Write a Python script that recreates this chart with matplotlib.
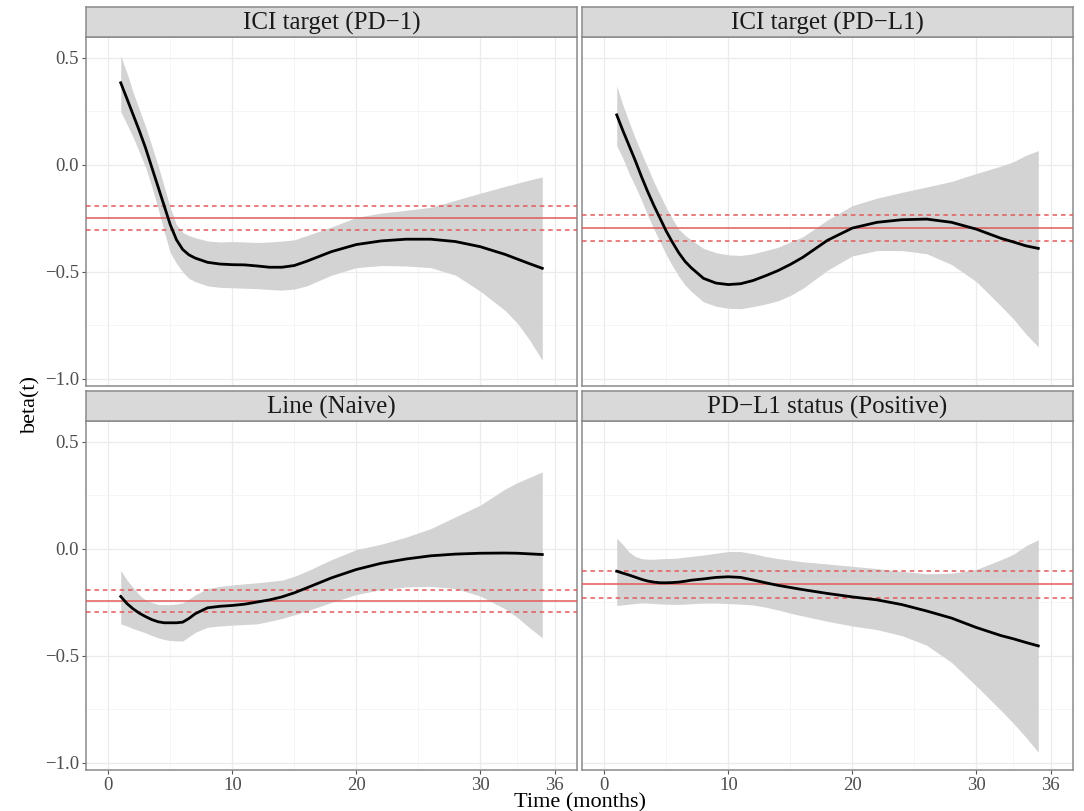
import numpy as np
import matplotlib.pyplot as plt
from matplotlib.ticker import FixedLocator

plt.rcParams['font.family'] = ['Liberation Serif', 'DejaVu Serif']

# Zeitpunkte (Monate), gemeinsam fuer alle Panels
t = [1, 1.5, 2, 2.5, 3, 3.5, 4, 4.5, 5, 5.5, 6, 6.5, 7, 8, 9, 10, 11, 12, 13, 14, 15, 16,
     18, 20, 22, 24, 26, 28, 30, 32, 33, 34, 35]

titles = ['ICI target (PD\u22121)', 'ICI target (PD\u2212L1)',
          'Line (Naive)', 'PD\u2212L1 status (Positive)']

# ICI target (PD-1)
pd1_est = [0.384, 0.31, 0.235, 0.16, 0.08, -0.01, -0.10, -0.19, -0.28, -0.35, -0.395, -0.42, -0.435,
           -0.455, -0.463, -0.466, -0.467, -0.472, -0.478, -0.478, -0.47, -0.45,
           -0.405, -0.372, -0.355, -0.347, -0.347, -0.358, -0.382, -0.418, -0.44, -0.462, -0.483]
pd1_hi = [0.51, 0.43, 0.34, 0.26, 0.18, 0.09, 0.0, -0.10, -0.20, -0.28, -0.315, -0.33, -0.34,
          -0.355, -0.36, -0.358, -0.36, -0.362, -0.36, -0.356, -0.35, -0.33,
          -0.29, -0.245, -0.225, -0.212, -0.198, -0.165, -0.132, -0.10, -0.085, -0.07, -0.056]
pd1_lo = [0.25, 0.19, 0.13, 0.06, -0.01, -0.10, -0.20, -0.31, -0.41, -0.46, -0.50, -0.53, -0.545,
          -0.565, -0.572, -0.574, -0.576, -0.578, -0.582, -0.585, -0.58, -0.565,
          -0.515, -0.48, -0.47, -0.472, -0.48, -0.515, -0.59, -0.68, -0.74, -0.82, -0.913]
pd1_const = [-0.248, -0.193, -0.304]

# ICI target (PD-L1)
pdl1_est = [0.234, 0.16, 0.09, 0.02, -0.055, -0.125, -0.19, -0.25, -0.31, -0.362, -0.41, -0.45, -0.48,
            -0.53, -0.552, -0.559, -0.555, -0.54, -0.518, -0.494, -0.465, -0.432,
            -0.352, -0.295, -0.268, -0.256, -0.253, -0.268, -0.30, -0.343, -0.36, -0.378, -0.39]
pdl1_hi = [0.37, 0.28, 0.20, 0.125, 0.055, -0.012, -0.08, -0.14, -0.20, -0.253, -0.30, -0.328, -0.35,
           -0.39, -0.41, -0.42, -0.423, -0.415, -0.40, -0.385, -0.36, -0.336,
           -0.257, -0.19, -0.155, -0.128, -0.103, -0.077, -0.04, -0.005, 0.015, 0.045, 0.067]
pdl1_lo = [0.09, 0.03, -0.04, -0.10, -0.165, -0.235, -0.30, -0.36, -0.42, -0.472, -0.52, -0.56, -0.59,
           -0.64, -0.66, -0.67, -0.672, -0.662, -0.65, -0.635, -0.61, -0.577,
           -0.492, -0.425, -0.40, -0.40, -0.415, -0.465, -0.545, -0.66, -0.72, -0.79, -0.85]
pdl1_const = [-0.295, -0.234, -0.356]

# Line (Naive)
naive_est = [-0.222, -0.255, -0.28, -0.30, -0.316, -0.33, -0.34, -0.345, -0.345, -0.345, -0.342, -0.325, -0.303,
             -0.275, -0.268, -0.264, -0.258, -0.248, -0.238, -0.224, -0.205, -0.182,
             -0.135, -0.096, -0.067, -0.047, -0.032, -0.024, -0.02, -0.019, -0.02, -0.023, -0.026]
naive_hi = [-0.10, -0.145, -0.18, -0.215, -0.238, -0.25, -0.259, -0.26, -0.26, -0.257, -0.252, -0.235, -0.215,
            -0.185, -0.175, -0.168, -0.163, -0.158, -0.152, -0.146, -0.128, -0.104,
            -0.05, -0.003, 0.022, 0.055, 0.095, 0.15, 0.205, 0.28, 0.31, 0.335, 0.36]
naive_lo = [-0.35, -0.36, -0.372, -0.382, -0.392, -0.404, -0.415, -0.423, -0.428, -0.43, -0.43, -0.41, -0.39,
            -0.366, -0.36, -0.356, -0.353, -0.35, -0.338, -0.325, -0.308, -0.29,
            -0.25, -0.213, -0.19, -0.178, -0.175, -0.185, -0.22, -0.28, -0.32, -0.37, -0.415]
naive_const = [-0.244, -0.194, -0.293]

# PD-L1 status (Positive)
status_est = [-0.104, -0.113, -0.122, -0.132, -0.142, -0.15, -0.155, -0.158, -0.158, -0.157, -0.155, -0.151, -0.146,
              -0.14, -0.133, -0.13, -0.133, -0.145, -0.158, -0.17, -0.18, -0.19,
              -0.208, -0.224, -0.238, -0.26, -0.29, -0.323, -0.367, -0.405, -0.42, -0.437, -0.453]
status_hi = [0.05, 0.02, -0.015, -0.035, -0.045, -0.048, -0.048, -0.046, -0.045, -0.044, -0.042, -0.038, -0.035,
             -0.028, -0.02, -0.012, -0.012, -0.022, -0.035, -0.045, -0.052, -0.06,
             -0.07, -0.081, -0.092, -0.105, -0.116, -0.113, -0.096, -0.05, -0.025, 0.015, 0.043]
status_lo = [-0.264, -0.261, -0.258, -0.255, -0.252, -0.253, -0.255, -0.257, -0.258, -0.259, -0.259, -0.258, -0.256,
             -0.253, -0.253, -0.255, -0.258, -0.262, -0.272, -0.285, -0.30, -0.313,
             -0.338, -0.36, -0.377, -0.405, -0.45, -0.53, -0.64, -0.755, -0.815, -0.88, -0.95]
status_const = [-0.165, -0.104, -0.228]

panels = [(pd1_est, pd1_lo, pd1_hi, pd1_const),
          (pdl1_est, pdl1_lo, pdl1_hi, pdl1_const),
          (naive_est, naive_lo, naive_hi, naive_const),
          (status_est, status_lo, status_hi, status_const)]

W, H = 1084, 811
fig = plt.figure(figsize=(W / 100, H / 100), dpi=100)

# Panel-Positionen in Pixeln
cols = [(86, 577), (582, 1073)]
rows = [(7, 37, 386), (391, 421, 770)]
border = '#8a8a8a'

for i, (est, lo, hi, const) in enumerate(panels):
    r, c = divmod(i, 2)
    x0, x1 = cols[c]
    s0, p0, p1 = rows[r]
    ax = fig.add_axes([x0 / W, 1 - p1 / H, (x1 - x0) / W, (p1 - p0) / H])
    ax.fill_between(t, lo, hi, color='#d3d3d3', lw=0, zorder=2)
    ax.plot(t, est, color='black', lw=2.0, zorder=4, solid_joinstyle='round')
    ax.axhline(const[0], color='#e15b5b', lw=1.1, zorder=3)
    ax.axhline(const[1], color='#e15b5b', lw=1.1, ls=(0, (3, 2.5)), zorder=3)
    ax.axhline(const[2], color='#e15b5b', lw=1.1, ls=(0, (3, 2.5)), zorder=3)

    ax.set_xlim(-1.8, 37.8)
    ax.set_ylim(-1.033, 0.598)
    ax.xaxis.set_major_locator(FixedLocator([0, 10, 20, 30, 36]))
    ax.xaxis.set_minor_locator(FixedLocator([5, 15, 25, 33]))
    ax.yaxis.set_major_locator(FixedLocator([-1.0, -0.5, 0.0, 0.5]))
    ax.yaxis.set_minor_locator(FixedLocator([-0.75, -0.25, 0.25]))
    ax.grid(which='major', color='#ebebeb', lw=0.9, zorder=0)
    ax.grid(which='minor', color='#f2f2f2', lw=0.5, zorder=0)
    ax.set_axisbelow(True)
    ax.tick_params(which='minor', length=0)
    ax.tick_params(which='major', length=3, width=0.8, color='#555555',
                   labelcolor='#4d4d4d', labelsize=13.5, pad=2)
    ax.set_yticklabels(['\u22121.0', '\u22120.5', '0.0', '0.5'])
    if c == 1:
        ax.tick_params(axis='y', length=0, labelleft=False)
    if r == 0:
        ax.tick_params(axis='x', length=0, labelbottom=False)
    for sp in ax.spines.values():
        sp.set_color(border)
        sp.set_linewidth(1.1)

    # Streifen mit Titel
    sax = fig.add_axes([x0 / W, 1 - p0 / H, (x1 - x0) / W, (p0 - s0) / H])
    sax.set_facecolor('#d9d9d9')
    sax.set_xticks([])
    sax.set_yticks([])
    for sp in sax.spines.values():
        sp.set_color(border)
        sp.set_linewidth(1.1)
    sax.text(0.5, 0.45, titles[i], ha='center', va='center', fontsize=18,
             color='#1a1a1a', transform=sax.transAxes)

fig.text(31 / W, 1 - 404 / H, 'beta(t)', rotation=90, ha='center', va='center', fontsize=16)
fig.text(580 / W, 1 - 803 / H, 'Time (months)', ha='center', va='center', fontsize=16)

fig.savefig('out.png', dpi=100)
